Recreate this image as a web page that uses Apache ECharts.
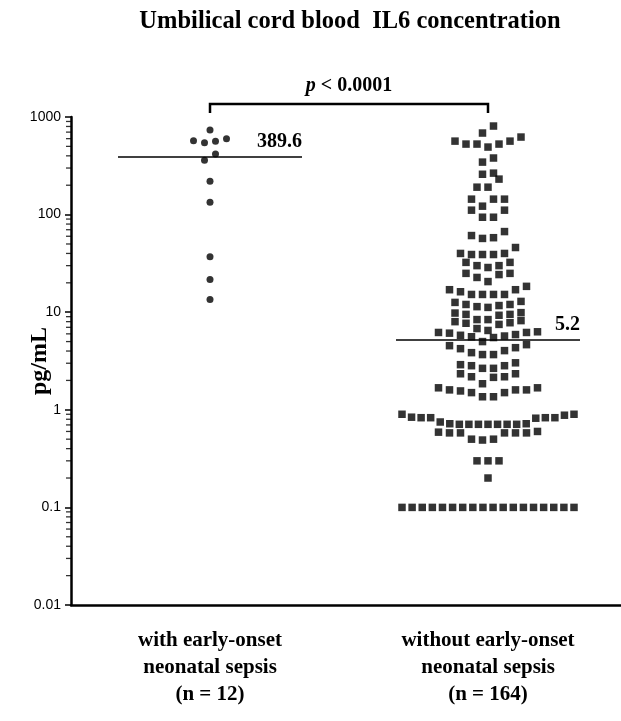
<!DOCTYPE html>
<html>
<head>
<meta charset="utf-8">
<script src="https://cdn.jsdelivr.net/npm/echarts@6/dist/echarts.min.js"></script>
<style>
  html, body { margin: 0; padding: 0; background: #fff; }
  #chart { width: 621px; height: 721px; }
</style>
</head>
<body>
<div id="chart"></div>
<script>
// categories
const groups = [
  'with early-onset\nneonatal sepsis\n(n = 12)',
  'without early-onset\nneonatal sepsis\n(n = 164)'
];

// IL6 values, pg/mL
const withSepsis = [735, 598, 571, 566, 545, 417, 361, 220, 134, 37, 21.6, 13.5];

const withoutSepsis = [
  808, 685, 623, 566, 566, 528, 528, 528, 492,
  380, 345, 266, 259, 231, 191, 191,
  144, 144, 144, 122, 111, 111, 94, 94,
  67, 61, 58, 57, 46, 40, 40, 39, 39, 39,
  32.4, 32.4, 30, 30, 28.7, 25, 25, 24.3, 22.7, 20.6,
  18.4, 17, 17, 16.2, 15.2, 15.2, 15.2, 15.2,
  12.9, 12.6, 12.0, 12.0, 11.7, 11.4, 11.2,
  9.9, 9.8, 9.5, 9.5, 9.3,
  8.4, 8.4, 8.2, 8.0, 7.8, 7.7, 7.5, 6.8, 6.5,
  6.3, 6.2, 6.2, 6.1, 5.9, 5.8, 5.7, 5.6, 5.5,
  5.0, 4.65, 4.54, 4.33, 4.23, 4.04, 3.85, 3.68, 3.68,
  3.03, 2.90, 2.83, 2.83, 2.66, 2.66,
  2.34, 2.34, 2.18, 2.18, 2.15, 1.85,
  1.68, 1.68, 1.6, 1.6, 1.6, 1.56, 1.5, 1.5, 1.36, 1.36,
  0.9, 0.9, 0.88, 0.84, 0.83, 0.83, 0.83, 0.83, 0.82,
  0.75, 0.72, 0.72, 0.71, 0.71, 0.71, 0.71, 0.71, 0.71, 0.71,
  0.6, 0.59, 0.58, 0.58, 0.58, 0.58, 0.58, 0.5, 0.5, 0.49,
  0.3, 0.3, 0.3, 0.2,
  0.1, 0.1, 0.1, 0.1, 0.1, 0.1, 0.1, 0.1, 0.1,
  0.1, 0.1, 0.1, 0.1, 0.1, 0.1, 0.1, 0.1, 0.1
];

const medians = [389.6, 5.2];
const medianLabels = ['389.6', '5.2'];
const yTickLabels = ['0.01', '0.1', '1', '10', '100', '1000'];

const serif = "'Liberation Serif', 'Times New Roman', serif";
const sans = "'Liberation Sans', Arial, sans-serif";

const chart = echarts.init(document.getElementById('chart'));

const baseOption = {
  animation: false,
  grid: { left: 71, right: -6, top: 117, bottom: 116, containLabel: false, outerBoundsMode: 'none' },
  xAxis: [
    {
      type: 'category',
      data: groups,
      axisLine: { lineStyle: { color: '#000', width: 2.5 } },
      axisTick: { alignWithLabel: true, length: 5, lineStyle: { color: '#000', width: 2 } },
      axisLabel: {
        color: '#000', fontFamily: serif, fontWeight: 'bold',
        fontSize: 21, lineHeight: 27, margin: 22
      },
      splitLine: { show: false }
    },
    { type: 'value', min: 0, max: 2, show: false }
  ],
  yAxis: {
    type: 'log',
    logBase: 10,
    min: 0.01,
    max: 1000,
    name: 'pg/mL',
    nameLocation: 'middle',
    nameRotate: 90,
    nameGap: 19,
    nameMoveOverlap: false,
    nameTextStyle: { color: '#000', fontFamily: serif, fontWeight: 'bold', fontSize: 24 },
    axisLine: { show: true, lineStyle: { color: '#000', width: 2.5 } },
    axisTick: { show: true, length: 6, lineStyle: { color: '#000', width: 1.5 } },
    axisLabel: {
      color: '#000', fontFamily: sans, fontSize: 14, margin: 10,
      formatter: function (v) {
        return yTickLabels.find(t => Math.abs(Math.log10(+t) - Math.log10(v)) < 1e-6) || '';
      }
    },
    splitLine: { show: false }
  },
  series: []
};

chart.setOption(baseOption);

// beeswarm: points close in height share a row, centred on the group
const ROW_SPAN = 10.5;
const GAP = 11;
const MAX_ROW = 172;
const unitPx = chart.convertToPixel({ xAxisIndex: 1 }, 1) - chart.convertToPixel({ xAxisIndex: 1 }, 0);

function slotOrder(n) {
  const out = [];
  if (n % 2) {
    out.push(0);
    for (let k = 1; out.length < n; k++) { out.push(-k); if (out.length < n) out.push(k); }
  } else {
    for (let k = 0.5; out.length < n; k++) { out.push(-k); out.push(k); }
  }
  return out;
}

function swarm(values, center) {
  const pts = values
    .map(v => ({ v: v, y: chart.convertToPixel({ yAxisIndex: 0 }, v) }))
    .sort((a, b) => a.v - b.v);
  const rows = [];
  let row = null;
  pts.forEach(p => {
    if (!row || row.start - p.y > ROW_SPAN) {
      row = { start: p.y, items: [] };
      rows.push(row);
    }
    row.items.push(p);
  });
  const data = [];
  rows.forEach(r => {
    const n = r.items.length;
    const step = n > 1 ? Math.min(GAP, MAX_ROW / (n - 1)) : GAP;
    const slots = slotOrder(n);
    r.items.forEach((p, i) => data.push([center + slots[i] * step / unitPx, p.v]));
  });
  return data;
}

// minor log ticks 2..9 in each decade
const minorTicks = [];
for (let k = -2; k <= 2; k++) {
  for (let m = 2; m <= 9; m++) minorTicks.push([0, +(m * Math.pow(10, k)).toPrecision(3)]);
}

const medianHalf = 92 / unitPx;
const series = [
  {
    type: 'scatter', xAxisIndex: 1, yAxisIndex: 0,
    symbol: 'circle', symbolSize: 7,
    itemStyle: { color: '#000' },
    data: swarm(withSepsis, 0.5), z: 3
  },
  {
    type: 'scatter', xAxisIndex: 1, yAxisIndex: 0,
    symbol: 'rect', symbolSize: 7.5,
    itemStyle: { color: '#000' },
    data: swarm(withoutSepsis, 1.5), z: 3
  },
  {
    type: 'scatter', xAxisIndex: 1, yAxisIndex: 0,
    symbol: 'rect', symbolSize: [5, 1.3], symbolOffset: [-2.5, 0],
    itemStyle: { color: '#000' }, clip: false, silent: true,
    data: minorTicks, z: 1
  }
];
medians.forEach((m, i) => {
  series.push({
    type: 'line', xAxisIndex: 1, yAxisIndex: 0,
    data: [[i + 0.5 - medianHalf, m], [i + 0.5 + medianHalf, m]],
    symbol: 'none', silent: true,
    lineStyle: { color: '#000', width: 1.5 }, z: 2
  });
});

// annotations placed from axis positions
const x1 = chart.convertToPixel({ xAxisIndex: 1 }, 0.5);
const x2 = chart.convertToPixel({ xAxisIndex: 1 }, 1.5);
const plotTop = chart.convertToPixel({ yAxisIndex: 0 }, 1000);
const barY = plotTop - 13;

const graphic = [
  {
    type: 'text', x: 350, y: 22,
    style: {
      text: 'Umbilical cord blood  IL6 concentration',
      font: 'bold 24.5px ' + serif, fill: '#000',
      align: 'center', verticalAlign: 'middle', textAlign: 'center', textVerticalAlign: 'middle'
    }
  },
  {
    type: 'polyline',
    shape: { points: [[x1, barY + 9], [x1, barY], [x2, barY], [x2, barY + 9]] },
    style: { stroke: '#000', lineWidth: 2.5, fill: null }
  },
  {
    type: 'text', x: (x1 + x2) / 2, y: barY - 18,
    style: {
      text: '{i|p} < 0.0001',
      font: 'bold 20px ' + serif, fill: '#000',
      align: 'center', verticalAlign: 'middle', textAlign: 'center', textVerticalAlign: 'middle',
      rich: { i: { fontStyle: 'italic', fontWeight: 'bold', fontSize: 20, fontFamily: serif } }
    }
  }
];
medians.forEach((m, i) => {
  graphic.push({
    type: 'text',
    x: chart.convertToPixel({ xAxisIndex: 1 }, i + 0.5 + medianHalf),
    y: chart.convertToPixel({ yAxisIndex: 0 }, m) - 5,
    style: {
      text: medianLabels[i], font: 'bold 20px ' + serif, fill: '#000',
      align: 'right', verticalAlign: 'bottom', textAlign: 'right', textVerticalAlign: 'bottom'
    }
  });
});

chart.setOption({ series: series, graphic: graphic });
</script>
</body>
</html>
